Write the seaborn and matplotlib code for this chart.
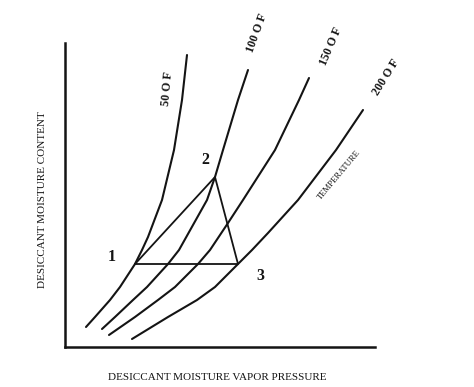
"""Desiccant moisture content vs vapour pressure isotherms (schematic)."""
import numpy as np
import pandas as pd
import matplotlib
matplotlib.use("Agg")
import matplotlib.pyplot as plt
import seaborn as sns

sns.set_theme(style="white")
plt.rcParams['font.family'] = ['Liberation Serif', 'DejaVu Serif']

# isotherm curves (arbitrary units)
x_50 = [21, 30, 45, 55, 70, 77, 83, 97, 109, 117, 122]
y_50 = [20, 30, 47, 60, 83, 97, 110, 147, 197, 247, 292]
x_100 = [37, 50, 68, 82, 103, 114, 142, 150, 158, 173, 183]
y_100 = [18, 30, 47, 60, 83, 97, 147, 170, 197, 247, 277]
x_150 = [44, 70, 93, 110, 133, 145, 163, 178, 210, 234, 244]
y_150 = [12, 30, 47, 60, 83, 97, 124, 147, 197, 247, 269]
x_200 = [67, 103, 132, 150, 173, 187, 203, 233, 271, 298]
y_200 = [8, 30, 47, 60, 83, 97, 114, 147, 197, 237]

# cycle 1 -> 2 -> 3 -> 1
cycle_x = [70, 150, 173, 70]
cycle_y = [83, 170, 83, 83]
cycle_labels = ["1", "2", "3"]

curve_labels = ["50 O F", "100 O F", "150 O F", "200 O F"]

curves = [(x_50, y_50), (x_100, y_100), (x_150, y_150), (x_200, y_200)]

fig = plt.figure(figsize=(4.74, 3.87), dpi=100)
ax = fig.add_axes([65 / 474, 1 - 347 / 387, 310 / 474, 304 / 387])

ink = "#141414"
for cx, cy in curves:
    df = pd.DataFrame({"x": cx, "y": cy})
    sns.lineplot(data=df, x="x", y="y", sort=False, estimator=None,
                 color=ink, lw=1.5, ax=ax)

tri = pd.DataFrame({"x": cycle_x, "y": cycle_y})
sns.lineplot(data=tri, x="x", y="y", sort=False, estimator=None,
             color=ink, lw=1.3, ax=ax)

ax.set_xlim(0, 310)
ax.set_ylim(0, 304)
ax.set_xticks([]); ax.set_yticks([])
ax.set_xlabel(""); ax.set_ylabel("")
for s in ["top", "right"]:
    ax.spines[s].set_visible(False)
for s in ["left", "bottom"]:
    ax.spines[s].set_color(ink)
    ax.spines[s].set_linewidth(1.8)

# point numbers
for lab, (px, py) in zip(cycle_labels, [(47, 90), (140, 187), (195, 71)]):
    ax.text(px, py, lab, fontsize=11.5, fontweight="bold", ha="center",
            va="center", color=ink)

# isotherm labels
for lab, (px, py), rot in zip(curve_labels,
                              [(103, 258), (192, 314), (266, 301), (321, 270)],
                              [85, 70, 67, 58]):
    ax.text(px, py, lab, fontsize=8.5, fontweight="bold", rotation=rot,
            ha="center", va="center", color=ink, clip_on=False)

ax.text(274, 172, "TEMPERATURE", fontsize=6.2, rotation=50,
        ha="center", va="center", color=ink)

fig.text(217 / 474, 1 - 377 / 387, "DESICCANT MOISTURE VAPOR PRESSURE",
         fontsize=8, ha="center", va="center", color=ink)
fig.text(43 / 474, 1 - 200 / 387, "DESICCANT MOISTURE CONTENT",
         fontsize=8, rotation=90, ha="center", va="center", color=ink)

fig.savefig("out.png", dpi=100)
